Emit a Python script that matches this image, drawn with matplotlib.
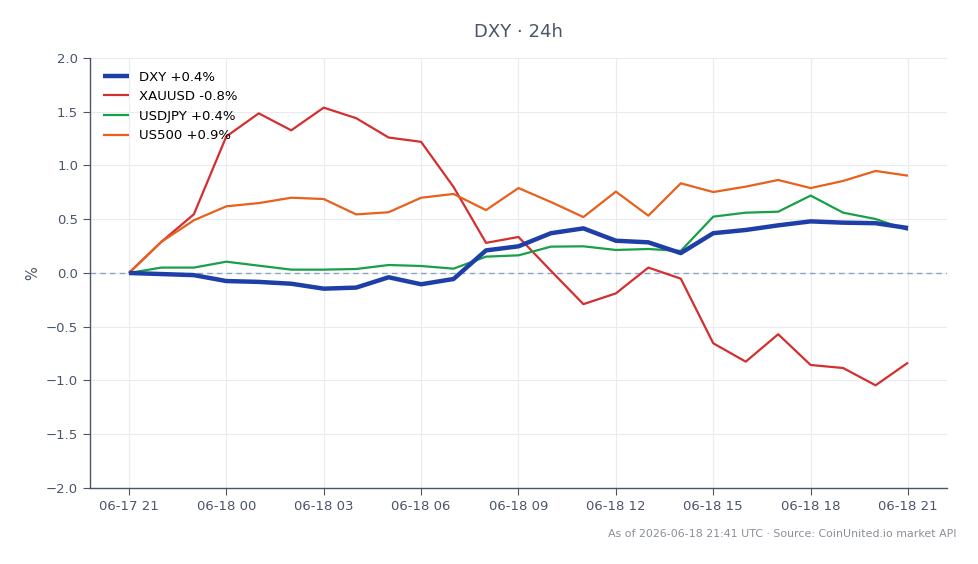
import matplotlib
matplotlib.use("Agg")
import matplotlib.pyplot as plt
import pandas as pd

hours = pd.date_range("2026-06-17 21:00", periods=25, freq="h")
tick_labels = ["06-17 21", "06-18 00", "06-18 03", "06-18 06", "06-18 09",
               "06-18 12", "06-18 15", "06-18 18", "06-18 21"]

dxy = [0.0, -0.01, -0.02, -0.075, -0.083, -0.10, -0.146, -0.136, -0.04, -0.105,
       -0.056, 0.21, 0.248, 0.37, 0.415, 0.30, 0.285, 0.185, 0.37, 0.40,
       0.443, 0.48, 0.468, 0.463, 0.418]
xauusd = [0.0, 0.29, 0.546, 1.27, 1.485, 1.327, 1.538, 1.44, 1.26, 1.22,
          0.80, 0.28, 0.335, 0.02, -0.29, -0.19, 0.05, -0.053, -0.654, -0.825,
          -0.57, -0.856, -0.884, -1.045, -0.834]
usdjpy = [0.0, 0.05, 0.05, 0.105, 0.068, 0.031, 0.031, 0.037, 0.074, 0.065,
          0.04, 0.152, 0.164, 0.245, 0.248, 0.214, 0.223, 0.205, 0.524, 0.561,
          0.57, 0.72, 0.561, 0.502, 0.40]
us500 = [0.0, 0.29, 0.49, 0.62, 0.65, 0.70, 0.688, 0.545, 0.565, 0.70,
         0.735, 0.585, 0.79, 0.66, 0.52, 0.757, 0.533, 0.834, 0.753, 0.803,
         0.865, 0.79, 0.856, 0.949, 0.905]

labels = ["DXY +0.4%", "XAUUSD -0.8%", "USDJPY +0.4%", "US500 +0.9%"]
colors = ["#1f3fa8", "#d32f2f", "#18a048", "#e8601c"]
widths = [3.2, 1.6, 1.6, 1.6]

text_c = "#4a5568"
fig = plt.figure(figsize=(9.79, 5.64), dpi=100)
ax = fig.add_axes([0.0919, 0.1348, 0.8754, 0.7624])

x = list(range(len(hours)))
for series, lab, c, w in zip([dxy, xauusd, usdjpy, us500], labels, colors, widths):
    ax.plot(x, series, color=c, lw=w, label=lab, solid_joinstyle="round",
            solid_capstyle="butt", zorder=3 if lab.startswith("DXY") else 2)

ax.axhline(0, color="#8fa3c4", lw=1, ls=(0, (4, 3)), zorder=1)
ax.set_ylim(-2.0, 2.0)
ax.set_yticks([-2.0, -1.5, -1.0, -0.5, 0.0, 0.5, 1.0, 1.5, 2.0])
ax.set_xlim(-1.2, 25.2)
ax.set_xticks(list(range(0, 25, 3)))
ax.set_xticklabels(tick_labels)
ax.grid(True, color="#e8ebf0", lw=0.8)
ax.set_axisbelow(True)
for s in ["top", "right"]:
    ax.spines[s].set_visible(False)
for s in ["left", "bottom"]:
    ax.spines[s].set_color(text_c)
    ax.spines[s].set_linewidth(1.0)
ax.tick_params(colors=text_c, labelsize=9.5, length=5)
ax.set_ylabel("%", color=text_c, fontsize=10.5)
ax.set_title("DXY · 24h", color=text_c, fontsize=13, pad=15)
leg = ax.legend(loc="upper left", frameon=False, fontsize=9.5, handlelength=2.0,
                borderaxespad=0.55, labelspacing=0.5)
fig.text(0.977, 0.045, "As of 2026-06-18 21:41 UTC · Source: CoinUnited.io market API",
         ha="right", va="bottom", fontsize=7.9, color="#8a8f98")
fig.savefig("out.png", dpi=100, facecolor="white")
